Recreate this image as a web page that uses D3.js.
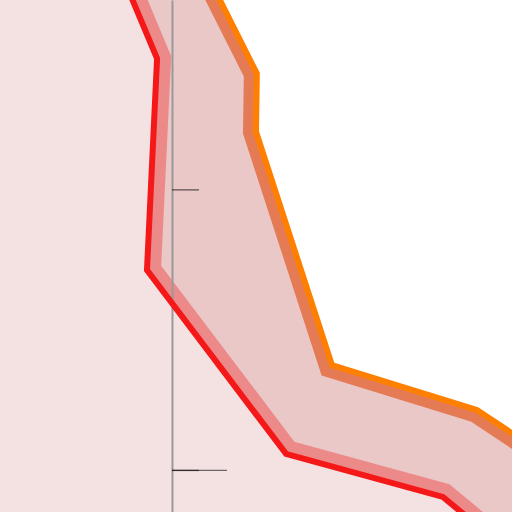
<!DOCTYPE html>
<html>
<head>
<meta charset="utf-8">
<script src="https://cdn.jsdelivr.net/npm/d3@7"></script>
<style>
  html, body { margin: 0; padding: 0; background: #fff; }
  #chart { width: 512px; height: 512px; overflow: hidden; }
</style>
</head>
<body>
<div id="chart"></div>
<script>
////////////////////// data ////////////////////////////////////////////
// two series, y is the running value, x the reading at that point
var redX    = [-0.199, -0.053, -0.089, 0.406, 0.964, 1.31];
var redY    = [ 2.815,  2.466,  1.712, 1.057, 0.904, 0.616];
var orangeX = [ 0.100,  0.302,  0.299, 0.569, 1.085, 1.31];
var orangeY = [ 2.815,  2.413,  2.206, 1.374, 1.214, 1.064];
var shortTicks = [1, 2];
var longTicks  = [1];

var width = 512, height = 512;

var svg = d3.select('#chart')
  .append('svg')
    .attr('width', width)
    .attr('height', height);

var xScale = d3.scaleLinear().domain([-0.612, 1.21]).range([0, width]);
var yScale = d3.scaleLinear().domain([0.85, 2.675]).range([height, 0]);

var redPts = redX.map(function(d, i) { return [d, redY[i]]; });
var orangePts = orangeX.map(function(d, i) { return [d, orangeY[i]]; });

var line = d3.line()
  .x(function(d) { return xScale(d[0]); })
  .y(function(d) { return yScale(d[1]); });

///////////////////// fills /////////////////////////////////////////////
var xd = xScale.domain(), yd = yScale.domain();
var pad = 1;

// everything left / below the red line
var lowPoly = redPts.concat([[xd[1] + pad, yd[0] - pad], [xd[0] - pad, yd[0] - pad], [xd[0] - pad, yd[1] + pad]]);
svg.append('path')
  .attr('d', line(lowPoly) + 'Z')
  .attr('fill', '#f4e2e2');

// band between the two lines
var midPoly = redPts.concat(orangePts.slice().reverse());
svg.append('defs').append('clipPath')
    .attr('id', 'midClip')
  .append('path')
    .attr('d', line(midPoly) + 'Z');

svg.append('path')
  .attr('d', line(midPoly) + 'Z')
  .attr('fill', '#eac8c8');

// soft inner edges, clipped to the band
var edges = svg.append('g').attr('clip-path', 'url(#midClip)');
edges.append('path')
  .attr('d', line(redPts))
  .attr('fill', 'none')
  .attr('stroke', '#ec8a8a')
  .attr('stroke-width', 28)
  .attr('stroke-linejoin', 'miter');
edges.append('path')
  .attr('d', line(orangePts))
  .attr('fill', 'none')
  .attr('stroke', '#e57b55')
  .attr('stroke-width', 26)
  .attr('stroke-linejoin', 'miter');

///////////////////// axis //////////////////////////////////////////////
var axisShort = d3.axisRight(yScale).tickValues(shortTicks).tickSize(27).tickSizeOuter(0).tickFormat('');
var axisLong  = d3.axisRight(yScale).tickValues(longTicks).tickSize(55).tickSizeOuter(0).tickFormat('');

var gShort = svg.append('g')
  .attr('transform', 'translate(' + xScale(0) + ',0)')
  .call(axisShort);
gShort.select('.domain').attr('stroke', '#999').attr('stroke-width', 2);
gShort.selectAll('.tick line').attr('stroke', '#000').attr('stroke-opacity', 0.55).attr('stroke-width', 1.4);

var gLong = svg.append('g')
  .attr('transform', 'translate(' + xScale(0) + ',0)')
  .call(axisLong);
gLong.select('.domain').remove();
gLong.selectAll('.tick line').attr('stroke', '#000').attr('stroke-opacity', 0.55).attr('stroke-width', 1.4);

///////////////////// lines /////////////////////////////////////////////
svg.append('path')
  .attr('d', line(redPts))
  .attr('fill', 'none')
  .attr('stroke', '#f51818')
  .attr('stroke-width', 6)
  .attr('stroke-linejoin', 'miter');

svg.append('path')
  .attr('d', line(orangePts))
  .attr('fill', 'none')
  .attr('stroke', '#ff8000')
  .attr('stroke-width', 6)
  .attr('stroke-linejoin', 'miter');
</script>
</body>
</html>
